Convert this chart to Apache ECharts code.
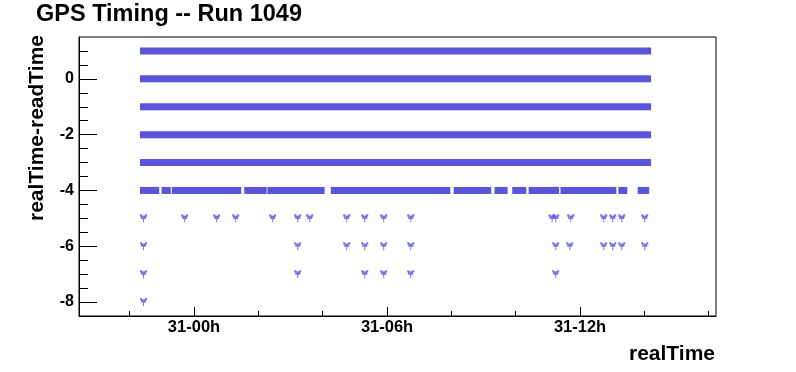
<!DOCTYPE html>
<html>
<head>
<meta charset="utf-8">
<script src="https://cdn.jsdelivr.net/npm/echarts@6/dist/echarts.min.js"></script>
<style>
html,body{margin:0;padding:0;background:#fff;}
#chart{width:796px;height:372px;}
</style>
</head>
<body>
<div id="chart"></div>
<script>
// x values: hours relative to day 31, 00h
const title = 'GPS Timing -- Run 1049';
const xTitle = 'realTime';
const yTitle = 'realTime-readTime';
const xMajorTicks = [0, 6, 12];
const xTickLabels = ['31-00h', '31-06h', '31-12h'];
const xMinorTicks = [-2, 2, 4, 8, 10, 14, 16];
const yMajorTicks = [-8, -6, -4, -2, 0];
const yMinorTicks = [-8, -7.5, -7, -6.5, -6, -5.5, -5, -4.5, -4, -3.5, -3, -2.5, -2, -1.5, -1, -0.5, 0, 0.5, 1];
const xRange = [-3.575, 16.226];
const yRange = [-8.5, 1.5];

// continuous rows (every sample present)
const denseLevels = [1, 0, -1, -2, -3];
const denseSpan = [-1.57, 14.10];

// row -4: stretches of samples, with gaps
const row4Segments = [
  [-1.57, -1.19], [-0.90, -0.83], [-0.58, 1.36], [1.67, 2.15], [2.39, 3.95],
  [4.36, 7.86], [8.18, 9.13], [9.45, 9.64], [10.00, 10.22], [10.51, 11.24],
  [11.50, 13.02], [13.30, 13.36], [13.90, 14.04]
];

// isolated samples
const row5 = [-1.57, -0.29, 0.705, 1.296, 2.446, 3.224, 3.597, 4.747, 5.307, 5.897, 6.737, 11.13, 11.244, 11.71, 12.736, 13.016, 13.296, 14.011];
const row6 = [-1.57, 3.224, 4.747, 5.307, 5.897, 6.737, 11.244, 11.68, 12.736, 13.016, 13.296, 14.011];
const row7 = [-1.57, 3.224, 5.307, 5.897, 6.737, 11.244];
const row8 = [-1.57];

const color = '#5954d9';
const font = '"Liberation Sans", Arial, Helvetica, sans-serif';
const markerPath = 'path://M0,0 L2,0 L2,1 L5,1 L5,0 L7,0 L7,2 L6,2 L6,4 L4,4 L4,7 L3,7 L3,4 L1,4 L1,2 L0,2 Z';

const segData = denseLevels.map(l => [denseSpan[0], denseSpan[1], l])
  .concat(row4Segments.map(s => [s[0], s[1], -4]));
const pts = [];
[[row5, -5], [row6, -6], [row7, -7], [row8, -8]].forEach(([arr, lvl]) => arr.forEach(x => pts.push([x, lvl])));

const xLabelOf = v => {
  const i = xMajorTicks.findIndex(t => Math.abs(t - Number(v)) < 1e-6);
  return i >= 0 ? xTickLabels[i] : '';
};

const tickStyle = { color: '#000', width: 1 };
const chart = echarts.init(document.getElementById('chart'), null, { renderer: 'canvas' });
chart.setOption({
  animation: false,
  backgroundColor: '#fff',
  grid: { left: 79, top: 37, width: 637, height: 279, show: true, borderColor: '#000', borderWidth: 1, backgroundColor: 'transparent', containLabel: false },
  xAxis: [
    {
      type: 'value', min: xRange[0], max: xRange[1], position: 'bottom',
      axisLine: { show: true, onZero: false, lineStyle: tickStyle },
      axisTick: { show: true, inside: true, length: 9, lineStyle: tickStyle, customValues: xMajorTicks },
      splitLine: { show: false },
      axisLabel: {
        show: true, margin: 3, hideOverlap: false, customValues: xMajorTicks,
        color: '#000', fontFamily: font, fontWeight: 'bold', fontSize: 16.5,
        formatter: xLabelOf
      }
    },
    {
      type: 'value', min: xRange[0], max: xRange[1], position: 'bottom',
      axisLine: { show: false, onZero: false },
      axisTick: { show: true, inside: true, length: 5, lineStyle: tickStyle, customValues: xMinorTicks },
      splitLine: { show: false },
      axisLabel: { show: false }
    }
  ],
  yAxis: [
    {
      type: 'value', min: yRange[0], max: yRange[1], position: 'left',
      axisLine: { show: true, onZero: false, lineStyle: tickStyle },
      axisTick: { show: true, inside: true, length: 18, lineStyle: tickStyle, customValues: yMajorTicks },
      splitLine: { show: false },
      axisLabel: {
        show: true, margin: 5, hideOverlap: false, customValues: yMajorTicks,
        color: '#000', fontFamily: font, fontWeight: 'bold', fontSize: 16,
        padding: [3, 0, 0, 0],
        formatter: v => String(Math.round(Number(v)))
      }
    },
    {
      type: 'value', min: yRange[0], max: yRange[1], position: 'left',
      axisLine: { show: false, onZero: false },
      axisTick: { show: true, inside: true, length: 9, lineStyle: tickStyle, customValues: yMinorTicks },
      splitLine: { show: false },
      axisLabel: { show: false }
    }
  ],
  series: [
    {
      type: 'custom', xAxisIndex: 0, yAxisIndex: 0,
      data: segData, encode: { x: [0, 1], y: 2 },
      clip: true,
      renderItem: (params, api) => {
        const y = api.value(2);
        const p0 = api.coord([api.value(0), y]);
        const p1 = api.coord([api.value(1), y]);
        return {
          type: 'rect',
          shape: { x: p0[0] - 3.5, y: p0[1] - 3.5, width: p1[0] - p0[0] + 7, height: 7 },
          style: { fill: color }
        };
      }
    },
    {
      type: 'scatter', xAxisIndex: 0, yAxisIndex: 0,
      data: pts, symbol: markerPath, symbolSize: [7, 8],
      itemStyle: { color: color }
    }
  ],
  graphic: [
    { type: 'text', x: 36, y: 15, style: { text: title, font: 'bold 23.5px ' + font, fill: '#000', textAlign: 'left', textVerticalAlign: 'middle' } },
    { type: 'text', x: 715, y: 354, style: { text: xTitle, font: 'bold 21px ' + font, fill: '#000', textAlign: 'right', textVerticalAlign: 'middle' } },
    { type: 'text', x: 37, y: 35, rotation: Math.PI / 2, style: { text: yTitle, font: 'bold 21px ' + font, fill: '#000', textAlign: 'right', textVerticalAlign: 'middle' } }
  ]
});
</script>
</body>
</html>
